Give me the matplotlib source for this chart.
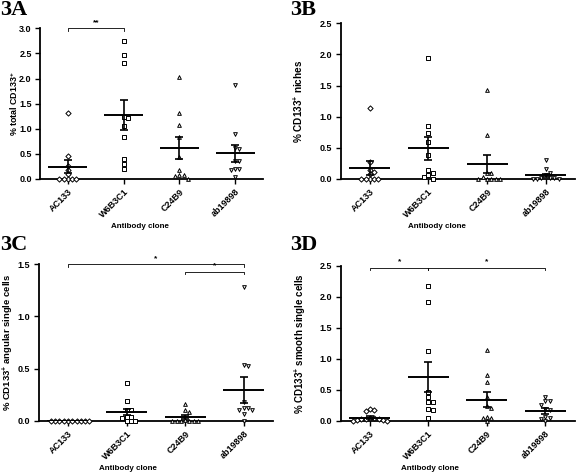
import numpy as np
import matplotlib
matplotlib.use("Agg")
import matplotlib.pyplot as plt

# ---- data ----
clones = ["AC133", "W6B3C1", "C24B9", "ab19898"]
markers = ["D", "s", "^", "v"]

# 3A  % total CD133+
A_ac133   = [1.32, 0.46, 0.26, 0.18, 0.10, 0, 0, 0, 0, 0]
A_w6b3c1  = [2.75, 2.46, 2.30, 1.24, 1.21, 1.06, 0.84, 0.39, 0.29, 0.20]
A_c24b9   = [2.04, 1.32, 1.08, 0.83, 0.44, 0.18, 0.07, 0.07, 0.06, 0.0]
A_ab19898 = [1.88, 0.90, 0.62, 0.60, 0.35, 0.35, 0.19, 0.19, 0.17, 0.03]
A_mean    = [0.24, 1.27, 0.62, 0.51]
A_sem     = [0.13, 0.295, 0.215, 0.175]

# 3B  % CD133+ niches
B_ac133   = [1.14, 0.28, 0.145, 0.12, 0.075, 0, 0, 0, 0, 0]
B_w6b3c1  = [1.95, 0.85, 0.74, 0.60, 0.385, 0.145, 0.09, 0.06, 0.04, 0]
B_c24b9   = [1.43, 0.71, 0.096, 0.096, 0.04, 0, 0, 0, 0, 0]
B_ab19898 = [0.305, 0.155, 0.10, 0.06, 0.02, 0.02, 0.01, 0, 0, 0]
B_mean    = [0.18, 0.49, 0.24, 0.06]
B_sem     = [0.11, 0.19, 0.15, 0.025]

# 3C  % CD133+ angular single cells
C_ac133   = [0, 0, 0, 0, 0, 0, 0, 0, 0, 0]
C_w6b3c1  = [0.36, 0.19, 0.10, 0.10, 0.04, 0.04, 0.03, 0, 0, 0]
C_c24b9   = [0.157, 0.10, 0.086, 0.01, 0, 0, 0, 0, 0, 0]
C_ab19898 = [1.28, 0.53, 0.52, 0.18, 0.12, 0.12, 0.10, 0.10, 0.06, 0]
C_mean    = [0.0, 0.083, 0.032, 0.294]
C_sem     = [0.0, 0.033, 0.018, 0.125]

# 3D  % CD133+ smooth single cells
D_ac133   = [0.19, 0.18, 0.15, 0.04, 0.04, 0.03, 0.02, 0.02, 0.01, 0.01, 0, 0]
D_w6b3c1  = [2.18, 1.92, 1.12, 0.46, 0.38, 0.30, 0.30, 0.19, 0.18, 0.04]
D_c24b9   = [1.14, 0.74, 0.62, 0.39, 0.23, 0.20, 0.065, 0.05, 0.04, 0]
D_ab19898 = [0.39, 0.32, 0.32, 0.26, 0.19, 0.17, 0.065, 0.05, 0.03, 0]
D_mean    = [0.05, 0.70, 0.34, 0.16]
D_sem     = [0.027, 0.245, 0.12, 0.05]

# significance brackets: (from, to, height, label)
A_sig = [(0, 1, 3.0, "**")]
C_sig = [(0, 3, 1.5, "*"), (2, 3, 1.43, "*")]
D_sig = [(0, 1, 2.47, "*"), (1, 3, 2.47, "*")]

plt.rcParams["font.family"] = "Liberation Sans"
plt.rcParams["mathtext.fontset"] = "custom"
plt.rcParams["mathtext.rm"] = "Liberation Sans:bold"
plt.rcParams["mathtext.bf"] = "Liberation Sans:bold"

fig = plt.figure(figsize=(5.76, 4.75), dpi=100)
W, H = 576, 475


def add_ax(left, right, top, bottom):
    return fig.add_axes([left / W, (H - bottom) / H, (right - left) / W, (bottom - top) / H])


def swarm(values, ax_px_h, ymax, ax_px_w, step=4.3, diam=4.0):
    """simple beeswarm: x offsets (category units) so markers don't overlap"""
    ppu_y = ax_px_h / ymax
    ppu_x = ax_px_w / 4.0
    cand = [0]
    for i in range(1, 12):
        cand += [i, -i]
    placed, offs = [], []
    for v in values:
        y = v * ppu_y
        for c in cand:
            x = c * step
            if all((x - px) ** 2 + (y - py) ** 2 >= diam ** 2 for px, py in placed):
                break
        placed.append((x, y))
        offs.append(x / ppu_x)
    return offs


def panel(ax, groups, means, sems, ymax, ylabel, ylab_size, sig, px_w, px_h,
          ylab_x, xlab_xy):
    for i, (vals, m) in enumerate(zip(groups, markers)):
        vals = sorted(vals, reverse=True)
        offs = swarm(vals, px_h, ymax, px_w)
        ax.scatter(np.array(offs) + i, vals, marker=m, s=7,
                   facecolors="white", edgecolors="black", linewidths=0.7,
                   zorder=3, clip_on=False)
    for i, (mu, se) in enumerate(zip(means, sems)):
        ax.plot([i - 0.35, i + 0.35], [mu, mu], color="black", lw=1.4, zorder=4,
                solid_capstyle="butt")
        if se > 0:
            ax.errorbar(i, mu, yerr=se, color="black", lw=1.2, capsize=3.2,
                        capthick=1.2, zorder=4)
    tick_h = ymax * 0.018
    for a, b, h, lab in sig:
        ax.plot([a, a, b, b], [h - tick_h, h, h, h - tick_h], color="black", lw=0.6,
                clip_on=False, zorder=5)
        ax.text((a + b) / 2, h + ymax * 0.012, lab, ha="center", va="bottom",
                fontsize=6, fontweight="bold")

    yt = np.arange(0, ymax + 1e-9, 0.5)
    ax.set_xlim(-0.5, 3.5)
    ax.set_ylim(0, ymax)
    ax.set_yticks(yt)
    ax.set_yticklabels([f"{t:.1f}" for t in yt], fontsize=6.5, fontweight="bold")
    ax.set_xticks(range(4))
    ax.set_xticklabels(clones, rotation=45, ha="right", rotation_mode="anchor",
                       fontsize=6.5, fontweight="bold")
    for s in ["top", "right"]:
        ax.spines[s].set_visible(False)
    for s in ["left", "bottom"]:
        ax.spines[s].set_linewidth(1.3)
    ax.tick_params(axis="both", direction="out", length=3.5, width=1.0, pad=2.5)
    ax.set_ylabel(ylabel, fontsize=ylab_size, fontweight="bold")
    ax.yaxis.set_label_coords(ylab_x, 0.5)
    ax.set_xlabel("Antibody clone", fontsize=5.8, fontweight="bold")
    ax.xaxis.set_label_coords(*xlab_xy)


# pixel boxes: left, right, top, bottom
axA = add_ax(40, 263, 28.3, 179)
axB = add_ax(340.5, 575, 23.3, 179)
axC = add_ax(38.7, 273, 264.3, 420.7)
axD = add_ax(340.7, 574.7, 265.7, 420.7)

panel(axA, [A_ac133, A_w6b3c1, A_c24b9, A_ab19898], A_mean, A_sem, 3.0,
      r"% total CD133$^{+}$", 6.4, A_sig, 223, 150.7, -0.09, (0.45, -0.29))
panel(axB, [B_ac133, B_w6b3c1, B_c24b9, B_ab19898], B_mean, B_sem, 2.5,
      r"% CD133$^{+}$ niches", 7.2, [], 234.5, 155.7, -0.15, (0.41, -0.28))
panel(axC, [C_ac133, C_w6b3c1, C_c24b9, C_ab19898], C_mean, C_sem, 1.5,
      r"% CD133$^{+}$ angular single cells", 6.8, C_sig, 234.3, 156.4, -0.095, (0.38, -0.285))
panel(axD, [D_ac133, D_w6b3c1, D_c24b9, D_ab19898], D_mean, D_sem, 2.5,
      r"% CD133$^{+}$ smooth single cells", 7.0, D_sig, 234, 155, -0.14, (0.38, -0.285))

for lab, x, y in [("3A", 0, 0), ("3B", 290, 0), ("3C", 0, 235), ("3D", 290, 235)]:
    fig.text(x / W, 1 - y / H, lab, ha="left", va="top", fontsize=16,
             fontweight="bold", family="Liberation Serif")

fig.savefig("out.png", dpi=100)
